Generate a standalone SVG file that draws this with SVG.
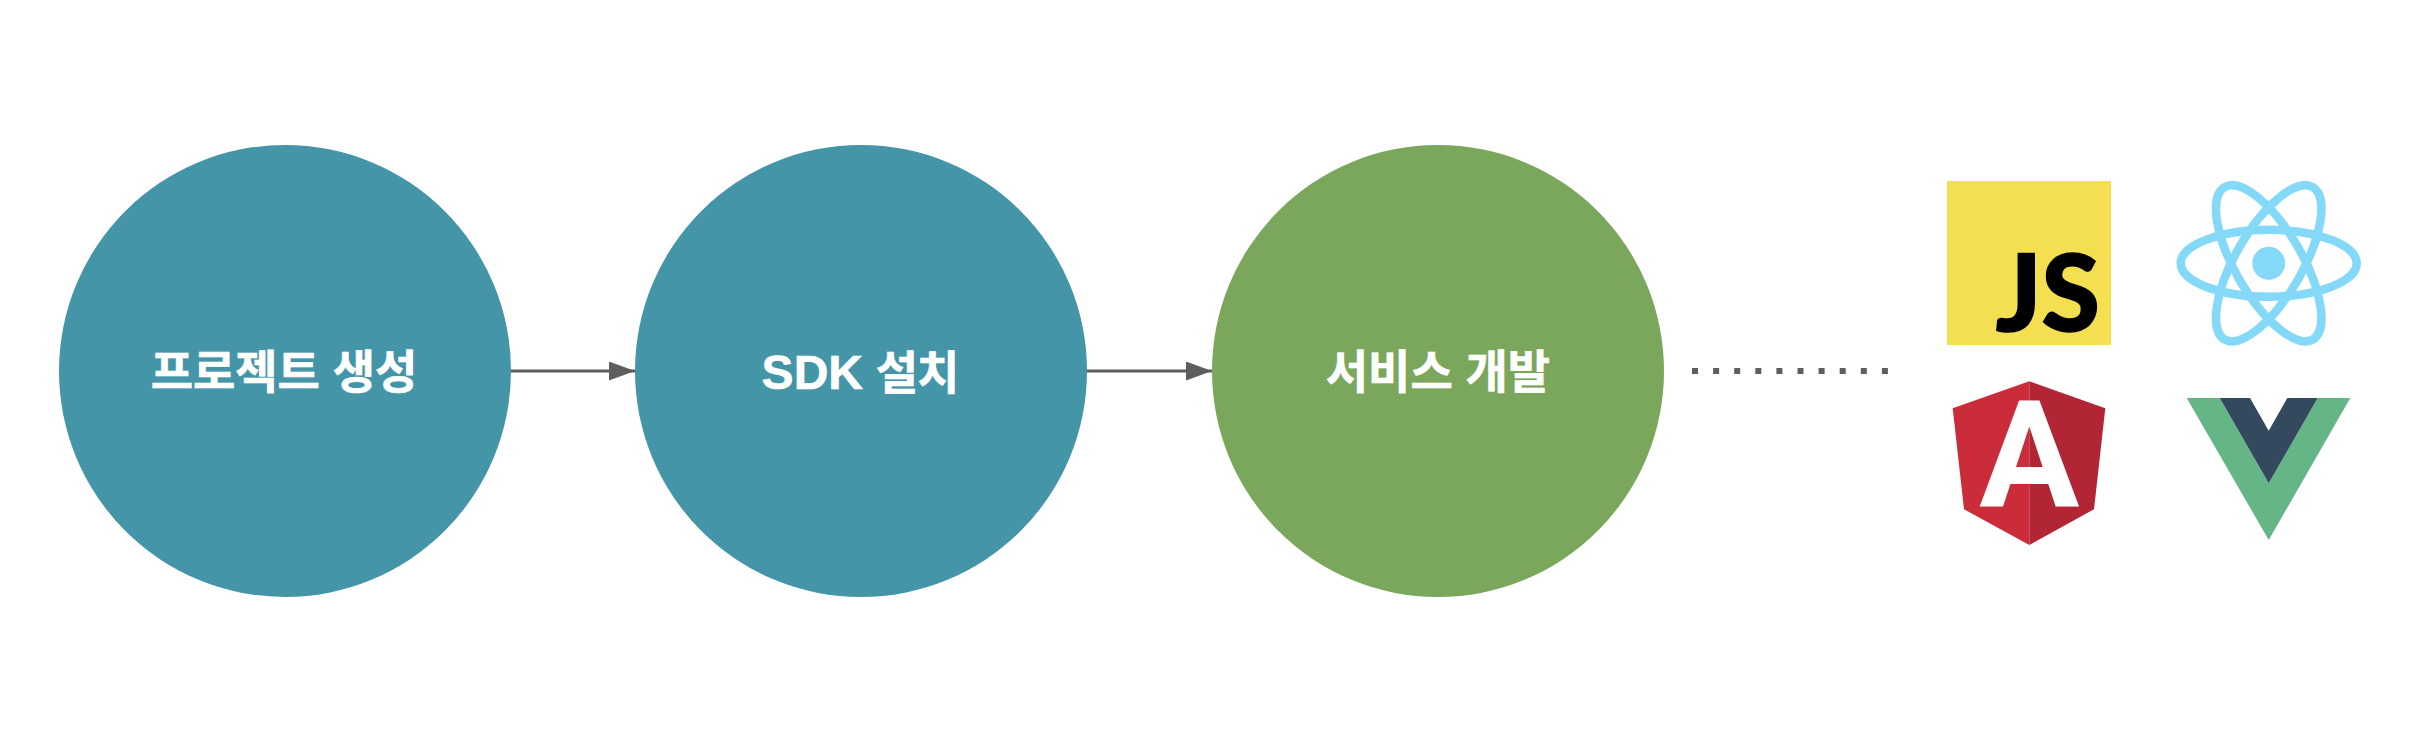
<svg xmlns="http://www.w3.org/2000/svg" width="2414" height="736" viewBox="0 0 2414 736">
<style>
.label{font-family:"Liberation Sans","Noto Sans CJK KR",sans-serif;font-size:46px;font-weight:700;fill:#fff;stroke:#fff;stroke-width:.6;text-anchor:middle}
.teal{fill:#4495a8}
.green{fill:#7ba75d}
.edge{stroke:#5e5e5e;stroke-width:3;fill:none;marker-end:url(#arrow)}
.orbit{fill:none;stroke:#84d8f8;stroke-width:8.5}
</style>
<defs>
<marker id="arrow" markerUnits="userSpaceOnUse" markerWidth="26" markerHeight="20" refX="26" refY="9.5" orient="auto">
<path d="M0 0L26 9.5L0 19Z" fill="#5e5e5e"/>
</marker>
</defs>
<rect width="2414" height="736" fill="#fff"/>
<g id="connectors">
<line class="edge" x1="511" y1="371" x2="635" y2="371"/>
<line class="edge" x1="1087" y1="371" x2="1212" y2="371"/>
<line x1="1692" y1="371" x2="1888" y2="371" stroke="#5e5e5e" stroke-width="6" stroke-dasharray="6 15.1"/>
</g>
<g id="node-create"><circle class="teal" cx="285" cy="371" r="226"/><text class="label" x="284" y="388">프로젝트 생성</text></g>
<g id="node-sdk"><circle class="teal" cx="861" cy="371" r="226"/><text class="label" x="860" y="389"><tspan font-size="48">SDK</tspan> <tspan letter-spacing="-1">설치</tspan></text></g>
<g id="node-service"><circle class="green" cx="1438" cy="371" r="226"/><text class="label" x="1438" y="388">서비스 개발</text></g>
<g id="logo-js">
<rect x="1947" y="181" width="164" height="164" fill="#f3df50"/>
<text x="2100" y="331" font-family="Lato,sans-serif" font-size="106" font-weight="900" fill="#000" stroke="#000" stroke-width="1.5" text-anchor="end">JS</text>
</g>
<g id="logo-react">
<ellipse class="orbit" cx="2268.7" cy="263.3" rx="88" ry="33.5"/>
<ellipse class="orbit" cx="2268.7" cy="263.3" rx="88" ry="33.5" transform="rotate(60 2268.7 263.3)"/>
<ellipse class="orbit" cx="2268.7" cy="263.3" rx="88" ry="33.5" transform="rotate(120 2268.7 263.3)"/>
<circle cx="2268.7" cy="263.3" r="16.5" fill="#84d8f8"/>
</g>
<g id="logo-angular">
<polygon points="2029.3,381.3 1952.7,408.3 1964,509.3 2029.3,545" fill="#cb2c3a"/>
<polygon points="2029.3,381.3 2105.3,408.3 2094,509.3 2029.3,545" fill="#b12534"/>
<text x="2029.3" y="506" font-family="Roboto,sans-serif" font-size="149" font-weight="700" fill="#fff" text-anchor="middle">A</text>
</g>
<g id="logo-vue">
<polygon points="2186.7,398 2219.7,398 2268.7,483.3 2317.7,398 2350.3,398 2268.7,540" fill="#64b687"/>
<polygon points="2219.7,398 2250,398 2268.7,430.7 2287.3,398 2317.7,398 2268.7,483.3" fill="#35495e"/>
</g>
</svg>
